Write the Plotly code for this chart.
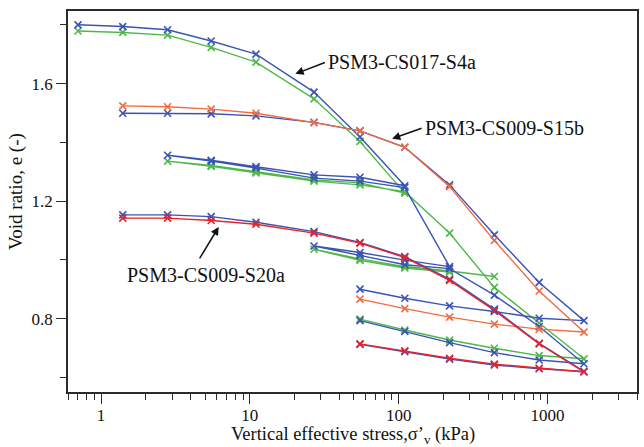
import plotly.graph_objects as go

# Oedometer compression curves: vertical effective stress (kPa) vs void ratio
# Blue = measured, second colour = companion curve for each sample

# PSM3-CS017-S4a (blue / green): load, unload-reload loops, final unload
s4a_blue_stress = [0.7, 1.4, 2.8, 5.5, 11, 27, 55, 110,
                   55, 27, 11, 5.5, 2.8,
                   5.5, 11, 27, 55, 110,
                   220,
                   110, 55, 27,
                   55, 110, 220,
                   440, 880, 1760,
                   880, 440, 220, 110, 55]
s4a_blue_e = [1.800, 1.794, 1.783, 1.745, 1.700, 1.571, 1.418, 1.252,
              1.281, 1.289, 1.317, 1.339, 1.356,
              1.336, 1.312, 1.278, 1.268, 1.246,
              0.977,
              0.999, 1.025, 1.047,
              1.015, 0.983, 0.970,
              0.880, 0.773, 0.646,
              0.659, 0.684, 0.718, 0.756, 0.793]

s4a_green_stress = [0.7, 1.4, 2.8, 5.5, 11, 27, 55, 110,
                    55, 27, 11, 5.5, 2.8,
                    5.5, 11, 27, 55, 110,
                    220, 440, 880, 1760,
                    880, 440, 220, 110, 55]
s4a_green_e = [1.779, 1.774, 1.765, 1.723, 1.673, 1.548, 1.403, 1.227,
               1.262, 1.272, 1.300, 1.321, 1.336,
               1.318, 1.296, 1.268, 1.255, 1.232,
               1.091, 0.906, 0.785, 0.663,
               0.674, 0.699, 0.727, 0.761, 0.798]

# second green loop between 27 and 440 kPa
s4a_green_loop_stress = [440, 220, 110, 55, 27, 55, 110, 220]
s4a_green_loop_e = [0.943, 0.962, 0.977, 1.003, 1.036, 0.998, 0.972, 0.958]

# PSM3-CS009-S15b (blue / orange)
s15b_stress = [1.4, 2.8, 5.5, 11, 27, 55, 110, 220, 440, 880, 1760,
               880, 440, 220, 110, 55]
s15b_blue_e = [1.499, 1.499, 1.497, 1.490, 1.468, 1.439, 1.383, 1.255, 1.085, 0.923, 0.793,
               0.801, 0.824, 0.843, 0.869, 0.900]
s15b_orange_e = [1.524, 1.521, 1.513, 1.499, 1.467, 1.439, 1.383, 1.249, 1.066, 0.894, 0.754,
                 0.764, 0.781, 0.805, 0.834, 0.866]

# PSM3-CS009-S20a (blue / red)
s20a_stress = [1.4, 2.8, 5.5, 11, 27, 55, 110, 220, 440, 880, 1760,
               880, 440, 220, 110, 55]
s20a_blue_e = [1.153, 1.153, 1.147, 1.128, 1.096, 1.059, 1.011, 0.934, 0.832, 0.716, 0.620,
               0.629, 0.642, 0.662, 0.687, 0.712]
s20a_red_e = [1.142, 1.142, 1.134, 1.121, 1.091, 1.057, 1.008, 0.930, 0.828, 0.714, 0.618,
              0.631, 0.645, 0.665, 0.690, 0.714]

x_tick_vals = [1, 10, 100, 1000]
x_tick_text = ["1", "10", "100", "1000"]
y_tick_vals = [0.8, 1.2, 1.6]
y_tick_text = ["0.8", "1.2", "1.6"]

BLUE = "#3a54b4"
GREEN = "#4fb84a"
ORANGE = "#f36c3e"
RED = "#e8222b"

FONT = "Liberation Serif"

series = [
    (s4a_green_stress, s4a_green_e, GREEN),
    (s4a_green_loop_stress, s4a_green_loop_e, GREEN),
    (s4a_blue_stress, s4a_blue_e, BLUE),
    (s15b_stress, s15b_blue_e, BLUE),
    (s15b_stress, s15b_orange_e, ORANGE),
    (s20a_stress, s20a_blue_e, BLUE),
    (s20a_stress, s20a_red_e, RED),
]

fig = go.Figure()
for xs, ys, col in series:
    fig.add_trace(go.Scatter(
        x=xs, y=ys, mode="lines+markers",
        line=dict(color=col, width=1.4),
        marker=dict(symbol="x-thin", size=7, color=col,
                    line=dict(color=col, width=1.6)),
        showlegend=False, hoverinfo="skip",
    ))

axis_line = dict(showline=True, linecolor="#2b2b2b", linewidth=1.6, mirror=True,
                 showgrid=False, zeroline=False, ticks="outside", tickcolor="#2b2b2b",
                 tickwidth=1.4, tickfont=dict(family=FONT, size=17, color="#111"))

fig.update_xaxes(type="log", range=[-0.222, 3.602],
                 tickvals=x_tick_vals, ticktext=x_tick_text, ticklen=10,
                 ticklabelstandoff=-3,
                 minor=dict(ticks="outside", ticklen=6, tickwidth=1.4, tickcolor="#2b2b2b",
                            dtick="D1", showgrid=False),
                 **axis_line)
fig.update_yaxes(range=[0.55, 1.847],
                 tickvals=y_tick_vals, ticktext=y_tick_text, ticklen=10,
                 minor=dict(ticks="outside", ticklen=6, tickwidth=1.4, tickcolor="#2b2b2b",
                            tickvals=[0.6, 1.0, 1.4, 1.8], showgrid=False),
                 **axis_line)

txt = dict(family=FONT, size=20, color="#111")
arrow = dict(showarrow=True, arrowhead=2, arrowsize=1.1, arrowwidth=1.5,
             arrowcolor="#111", text="", xref="x", yref="y")

annotations = [
    # labels
    dict(x=2.022, y=1.674, text="PSM3-CS017-S4a", showarrow=False, font=txt,
         xanchor="center", yanchor="middle"),
    dict(x=2.711, y=1.450, text="PSM3-CS009-S15b", showarrow=False, font=txt,
         xanchor="center", yanchor="middle"),
    dict(x=0.704, y=0.950, text="PSM3-CS009-S20a", showarrow=False, font=txt,
         xanchor="center", yanchor="middle"),
    # arrows pointing at each sample's curve
    dict(x=1.306, y=1.633, ax=31, ay=-12, **arrow),
    dict(x=1.956, y=1.412, ax=31, ay=-11, **arrow),
    dict(x=0.791, y=1.112, ax=-20, ay=33, **arrow),
    # axis titles
    dict(x=0.5, y=0, xref="paper", yref="paper", yshift=-43,
         text="Vertical effective stress,σ’<sub>v</sub> (kPa)", showarrow=False,
         font=dict(family=FONT, size=18.5, color="#111"), xanchor="center", yanchor="middle"),
    dict(x=0, y=0.525, xref="paper", yref="paper", xshift=-52,
         text="Void ratio, e (-)", showarrow=False, textangle=-90,
         font=dict(family=FONT, size=19, color="#111"), xanchor="center", yanchor="middle"),
]

fig.update_layout(
    width=644, height=447,
    margin=dict(l=68, r=5, t=11, b=55),
    paper_bgcolor="white", plot_bgcolor="white",
    annotations=annotations,
    font=dict(family=FONT),
)

fig.write_html("out.html")
